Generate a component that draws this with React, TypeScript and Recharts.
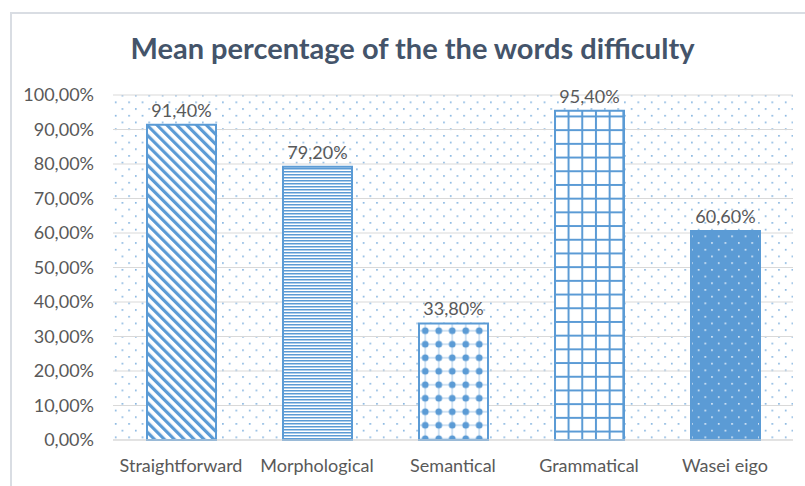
import { BarChart, Bar, XAxis, YAxis, CartesianGrid, Cell, LabelList } from 'recharts';

const categories = ['Straightforward', 'Morphological', 'Semantical', 'Grammatical', 'Wasei eigo'];
const meanValues = [0.914, 0.792, 0.338, 0.954, 0.606];
const yTicks = [0, 0.1, 0.2, 0.3, 0.4, 0.5, 0.6, 0.7, 0.8, 0.9, 1];
const patternIds = ['patDiag', 'patHoriz', 'patDots', 'patGrid', 'patSolid'];

const BLUE = '#5B9BD5';
const TEXT = '#595959';
const FONT = 'Lato, "Open Sans", sans-serif';

const data = categories.map((name, i) => ({ name, value: meanValues[i] }));

const pct = (v: number) => (v * 100).toFixed(2).replace('.', ',') + '%';

export default function App() {
    return (
        <div style={{ position: 'absolute', left: 0, top: 0, width: 805, height: 486, background: '#fff', overflow: 'hidden', fontFamily: FONT }}>
            <div style={{ position: 'absolute', left: 10, top: 12, width: 820, height: 500, border: '2px solid #D9DDE3', boxSizing: 'border-box' }} />
            <div style={{ position: 'absolute', left: 10, width: 805, top: 31, lineHeight: 1.2, textAlign: 'center', fontSize: 29, fontWeight: 700, color: '#44546A' }}>
                Mean percentage of the the words difficulty
            </div>
            <div style={{ position: 'absolute', left: 0, top: 0 }}>
                <BarChart width={805} height={486} data={data} margin={{ top: 95, right: 12, bottom: 0, left: 0 }}>
                    <defs>
                        <pattern id="bgDots" patternUnits="userSpaceOnUse" width="13.4" height="13.4">
                            <rect width="13.4" height="13.4" fill="#fff" />
                            <rect x="1" y="1" width="1.6" height="1.6" fill={BLUE} fillOpacity={0.8} />
                            <rect x="7.7" y="7.7" width="1.6" height="1.6" fill={BLUE} fillOpacity={0.8} />
                        </pattern>
                        <pattern id="patDiag" patternUnits="userSpaceOnUse" width="7" height="7" patternTransform="rotate(-45)">
                            <rect width="7" height="7" fill="#fff" />
                            <rect x="0" y="0" width="3.2" height="7" fill={BLUE} />
                        </pattern>
                        <pattern id="patHoriz" patternUnits="userSpaceOnUse" width="6" height="3">
                            <rect width="6" height="3" fill="#fff" />
                            <rect x="0" y="0" width="6" height="1.5" fill={BLUE} />
                        </pattern>
                        <pattern id="patDots" patternUnits="userSpaceOnUse" width="13.5" height="13.5">
                            <rect width="13.5" height="13.5" fill="#fff" />
                            <path d="M0 6.75 H13.5 M6.75 0 V13.5" stroke={BLUE} strokeWidth="0.8" strokeOpacity={0.7} />
                            <circle cx="6.75" cy="6.75" r="3.4" fill={BLUE} />
                        </pattern>
                        <pattern id="patGrid" patternUnits="userSpaceOnUse" width="13.7" height="13.7">
                            <rect width="13.7" height="13.7" fill="#fff" />
                            <path d="M6.85 0 V13.7 M0 6.85 H13.7" stroke={BLUE} strokeWidth="2" />
                        </pattern>
                        <pattern id="patSolid" patternUnits="userSpaceOnUse" width="13.4" height="13.4">
                            <rect width="13.4" height="13.4" fill={BLUE} />
                            <rect x="1" y="1" width="1.6" height="1.6" fill="#fff" fillOpacity={0.85} />
                            <rect x="7.7" y="7.7" width="1.6" height="1.6" fill="#fff" fillOpacity={0.85} />
                        </pattern>
                    </defs>
                    <CartesianGrid vertical={false} stroke="#D9D9D9" fill="url(#bgDots)" />
                    <XAxis
                        dataKey="name"
                        height={46}
                        tickLine={false}
                        tickSize={0}
                        tickMargin={19}
                        axisLine={{ stroke: '#D9D9D9' }}
                        tick={{ fill: TEXT, fontSize: 18, fontFamily: FONT }}
                        interval={0}
                    />
                    <YAxis
                        width={113}
                        domain={[0, 1]}
                        ticks={yTicks}
                        tickFormatter={pct}
                        axisLine={false}
                        tickLine={false}
                        tickSize={0}
                        tickMargin={19}
                        tick={{ fill: TEXT, fontSize: 18, fontFamily: FONT }}
                    />
                    <Bar dataKey="value" barSize={69} stroke={BLUE} strokeWidth={2} isAnimationActive={false}>
                        {data.map((_, i) => (
                            <Cell key={`cell-${i}`} fill={`url(#${patternIds[i]})`} />
                        ))}
                        <LabelList dataKey="value" position="top" offset={8} formatter={(v: any) => pct(Number(v))} fill={TEXT} fontSize={18} fontFamily={FONT} />
                    </Bar>
                </BarChart>
            </div>
        </div>
    );
}
